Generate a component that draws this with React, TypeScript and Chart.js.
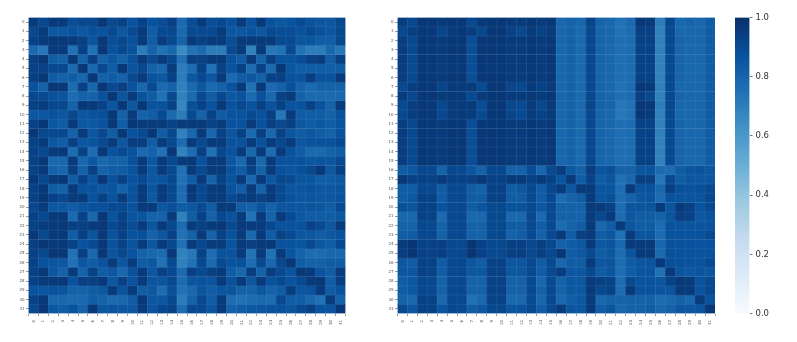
import React, { useEffect, useRef } from "react";
import { Chart, registerables } from "chart.js";

Chart.register(...registerables);

const cellLabels = Array.from({ length: 32 }, (_, i) => String(i));
const colorbarTicks = [0, 0.2, 0.4, 0.6, 0.8, 1];
const blues = ["#f7fbff", "#deebf7", "#c6dbef", "#9ecae1", "#6baed6", "#4292c6", "#2171b5", "#08519c", "#08306b"];

const leftMatrix = [
  [.96,.91,.96,.96,.89,.91,.91,.97,.91,.93,.87,.93,.87,.89,.94,.78,.89,.96,.89,.91,.87,.96,.87,.96,.87,.85,.87,.90,.87,.85,.85,.91],
  [.91,.96,.85,.85,.87,.85,.88,.87,.91,.85,.90,.96,.83,.90,.91,.78,.90,.90,.90,.96,.85,.85,.87,.85,.90,.89,.89,.87,.90,.87,.85,.91],
  [.93,.96,.97,.97,.96,.94,.86,.97,.89,.91,.87,.96,.83,.95,.91,.81,.96,.93,.96,.96,.89,.96,.96,.96,.96,.90,.90,.86,.86,.83,.83,.91],
  [.78,.73,.96,.96,.75,.93,.75,.97,.87,.91,.87,.71,.81,.75,.79,.65,.75,.78,.71,.71,.90,.96,.69,.96,.73,.75,.91,.75,.71,.71,.79,.73],
  [.94,.97,.83,.81,.97,.81,.94,.81,.85,.81,.87,.96,.90,.96,.91,.75,.94,.93,.96,.96,.87,.83,.96,.81,.94,.87,.87,.89,.93,.95,.83,.94],
  [.94,.93,.91,.91,.78,.97,.79,.91,.83,.97,.87,.91,.81,.79,.96,.71,.77,.93,.75,.93,.87,.93,.77,.93,.78,.97,.86,.83,.83,.83,.83,.83],
  [.94,.97,.83,.81,.83,.79,.97,.81,.83,.81,.90,.96,.87,.85,.93,.71,.85,.90,.85,.96,.78,.83,.85,.81,.93,.93,.87,.87,.95,.87,.87,.96],
  [.87,.81,.97,.97,.77,.93,.79,.97,.90,.94,.87,.79,.90,.78,.81,.69,.78,.85,.78,.81,.87,.96,.75,.96,.78,.81,.88,.81,.78,.81,.81,.81],
  [.91,.90,.87,.86,.77,.81,.81,.87,.97,.86,.96,.87,.83,.75,.91,.69,.78,.91,.83,.91,.85,.87,.78,.87,.79,.93,.96,.81,.78,.78,.78,.79],
  [.93,.96,.91,.91,.81,.97,.96,.93,.86,.97,.85,.97,.87,.87,.93,.67,.88,.93,.87,.97,.87,.91,.87,.93,.87,.93,.87,.87,.93,.87,.81,.96],
  [.85,.85,.87,.85,.91,.85,.87,.88,.97,.81,.96,.81,.83,.90,.78,.71,.90,.81,.93,.83,.87,.87,.90,.87,.94,.73,.96,.83,.83,.83,.81,.87],
  [.93,.97,.85,.83,.96,.85,.85,.87,.97,.83,.97,.96,.96,.96,.93,.96,.96,.96,.93,.96,.87,.87,.96,.87,.94,.91,.94,.85,.83,.85,.83,.87],
  [.97,.91,.90,.91,.81,.96,.85,.91,.83,.97,.87,.90,.97,.83,.91,.69,.79,.96,.79,.93,.86,.93,.78,.94,.79,.93,.86,.83,.85,.83,.81,.87],
  [.93,.96,.85,.83,.94,.85,.86,.90,.96,.85,.95,.95,.83,.96,.91,.77,.96,.90,.96,.96,.87,.87,.96,.87,.96,.91,.96,.85,.87,.87,.87,.90],
  [.93,.91,.96,.97,.77,.93,.77,.97,.87,.90,.87,.78,.81,.75,.97,.69,.77,.94,.75,.91,.87,.96,.79,.96,.77,.96,.87,.83,.78,.78,.81,.83],
  [.93,.97,.79,.79,.96,.79,.85,.79,.81,.81,.87,.96,.85,.96,.90,.96,.97,.87,.96,.96,.85,.79,.95,.79,.96,.87,.87,.87,.85,.86,.85,.90],
  [.93,.96,.81,.79,.94,.81,.94,.81,.83,.83,.87,.96,.85,.96,.90,.75,.96,.90,.96,.96,.87,.83,.93,.81,.96,.88,.86,.88,.91,.97,.85,.94],
  [.97,.91,.96,.97,.83,.93,.86,.97,.87,.93,.87,.90,.85,.86,.91,.75,.83,.96,.81,.93,.87,.96,.79,.96,.85,.91,.90,.86,.86,.83,.83,.85],
  [.93,.97,.83,.81,.96,.87,.87,.85,.87,.81,.87,.96,.86,.96,.91,.77,.97,.91,.96,.96,.87,.83,.96,.81,.96,.90,.86,.86,.87,.85,.85,.86],
  [.93,.97,.93,.91,.96,.96,.87,.93,.87,.96,.87,.96,.85,.96,.91,.77,.96,.91,.96,.96,.90,.93,.96,.93,.96,.90,.87,.85,.86,.85,.85,.87],
  [.91,.96,.85,.85,.83,.86,.88,.88,.90,.90,.87,.96,.96,.85,.88,.83,.85,.90,.83,.96,.96,.83,.81,.87,.81,.86,.86,.85,.86,.85,.83,.90],
  [.93,.91,.96,.97,.78,.93,.79,.97,.87,.93,.87,.86,.81,.81,.96,.69,.83,.93,.81,.91,.87,.96,.75,.96,.81,.96,.90,.85,.83,.83,.83,.85],
  [.93,.96,.96,.97,.94,.94,.96,.97,.90,.94,.89,.96,.86,.96,.91,.77,.96,.93,.96,.97,.90,.96,.96,.95,.91,.87,.87,.87,.93,.90,.85,.96],
  [.97,.91,.96,.97,.83,.94,.86,.97,.87,.93,.87,.88,.81,.85,.93,.75,.81,.96,.81,.93,.87,.96,.79,.96,.83,.93,.90,.85,.85,.83,.85,.87],
  [.94,.97,.96,.97,.93,.87,.90,.97,.87,.93,.87,.96,.85,.96,.91,.75,.96,.91,.96,.96,.87,.96,.94,.96,.97,.87,.87,.86,.90,.85,.83,.90],
  [.93,.91,.97,.97,.75,.94,.79,.97,.86,.91,.87,.81,.79,.77,.97,.69,.73,.93,.77,.87,.87,.96,.75,.96,.75,.96,.86,.81,.77,.77,.79,.79],
  [.93,.87,.86,.85,.75,.85,.83,.87,.96,.85,.95,.83,.85,.75,.90,.69,.75,.91,.78,.90,.87,.88,.77,.90,.79,.91,.97,.83,.81,.81,.83,.83],
  [.93,.97,.85,.81,.96,.81,.93,.83,.85,.79,.87,.96,.85,.94,.90,.78,.94,.90,.94,.96,.83,.79,.95,.81,.95,.90,.86,.97,.96,.86,.83,.95],
  [.93,.96,.96,.97,.87,.94,.94,.97,.85,.93,.87,.96,.86,.86,.91,.77,.86,.87,.86,.96,.87,.96,.85,.96,.87,.90,.87,.90,.96,.97,.83,.94],
  [.87,.86,.87,.86,.81,.81,.83,.85,.96,.87,.96,.83,.85,.77,.88,.75,.79,.86,.83,.86,.86,.81,.81,.85,.81,.83,.95,.86,.87,.96,.83,.87],
  [.93,.97,.79,.79,.78,.79,.83,.81,.78,.79,.83,.97,.85,.85,.91,.71,.81,.91,.83,.96,.77,.75,.77,.78,.77,.91,.83,.83,.79,.75,.96,.81],
  [.91,.97,.85,.83,.87,.81,.97,.85,.86,.85,.85,.96,.86,.91,.93,.77,.90,.90,.86,.96,.81,.83,.85,.85,.87,.87,.86,.90,.93,.87,.87,.97],
];

const rightMatrix = [
  [.95,.91,.97,.97,.96,.97,.97,.91,.96,.97,.97,.96,.96,.97,.96,.97,.79,.81,.79,.92,.80,.79,.75,.78,.97,.96,.71,.91,.79,.80,.79,.83],
  [.91,.95,.97,.97,.92,.96,.97,.95,.91,.97,.97,.93,.91,.96,.93,.96,.79,.81,.78,.91,.80,.79,.75,.77,.94,.94,.69,.90,.79,.79,.79,.83],
  [.95,.90,.97,.97,.96,.97,.97,.89,.97,.97,.97,.96,.96,.97,.96,.97,.79,.81,.78,.91,.80,.79,.76,.77,.93,.93,.69,.90,.80,.79,.79,.83],
  [.95,.90,.97,.97,.96,.97,.97,.89,.97,.97,.97,.96,.96,.97,.96,.97,.79,.81,.78,.91,.80,.79,.76,.77,.93,.93,.69,.90,.80,.79,.79,.83],
  [.95,.90,.97,.97,.96,.97,.97,.89,.97,.97,.97,.96,.96,.97,.96,.97,.79,.81,.78,.91,.80,.79,.76,.77,.93,.93,.69,.90,.80,.79,.79,.83],
  [.95,.90,.97,.97,.96,.97,.97,.89,.97,.97,.97,.96,.96,.97,.96,.97,.79,.81,.78,.91,.80,.79,.76,.77,.93,.93,.69,.90,.80,.79,.79,.83],
  [.95,.90,.97,.97,.96,.97,.97,.89,.97,.97,.97,.96,.96,.97,.96,.97,.79,.81,.78,.91,.80,.79,.76,.77,.93,.93,.69,.90,.80,.79,.79,.83],
  [.91,.95,.97,.97,.92,.96,.96,.96,.90,.97,.97,.92,.91,.96,.93,.96,.79,.81,.78,.91,.80,.79,.75,.77,.97,.96,.69,.90,.79,.79,.79,.83],
  [.96,.91,.97,.97,.96,.97,.96,.90,.96,.97,.97,.96,.96,.97,.96,.97,.79,.81,.78,.91,.80,.79,.76,.77,.94,.91,.69,.90,.80,.79,.79,.83],
  [.90,.95,.97,.97,.91,.96,.96,.96,.89,.97,.97,.91,.90,.96,.91,.96,.79,.81,.78,.92,.81,.80,.73,.75,.97,.97,.70,.91,.79,.79,.79,.83],
  [.91,.95,.97,.97,.91,.96,.96,.96,.90,.97,.97,.92,.90,.96,.93,.96,.79,.81,.78,.91,.80,.79,.73,.75,.97,.96,.69,.90,.79,.79,.79,.83],
  [.95,.91,.97,.97,.96,.97,.97,.89,.97,.97,.97,.96,.96,.97,.96,.97,.79,.81,.78,.91,.80,.79,.76,.77,.93,.93,.69,.90,.80,.79,.79,.83],
  [.95,.90,.97,.97,.96,.97,.97,.89,.97,.97,.97,.96,.96,.97,.96,.97,.79,.81,.78,.91,.80,.79,.76,.77,.93,.93,.69,.90,.80,.79,.79,.83],
  [.95,.90,.97,.97,.96,.97,.97,.89,.97,.97,.97,.96,.96,.97,.96,.97,.79,.81,.78,.91,.80,.79,.76,.77,.93,.93,.69,.90,.80,.79,.79,.83],
  [.95,.90,.97,.97,.96,.97,.97,.89,.97,.97,.97,.96,.96,.97,.96,.97,.79,.81,.78,.91,.80,.79,.76,.77,.93,.93,.69,.90,.80,.79,.79,.83],
  [.95,.90,.97,.97,.96,.97,.97,.89,.97,.97,.97,.96,.96,.97,.96,.97,.79,.81,.78,.91,.80,.79,.76,.77,.93,.93,.69,.90,.80,.79,.79,.83],
  [.83,.85,.91,.91,.81,.91,.90,.86,.81,.91,.91,.81,.81,.89,.79,.90,.95,.85,.81,.95,.86,.88,.81,.81,.86,.86,.77,.77,.83,.86,.87,.85],
  [.97,.94,.93,.93,.96,.93,.93,.94,.97,.93,.93,.96,.96,.93,.96,.93,.86,.96,.83,.93,.83,.86,.75,.79,.94,.94,.73,.91,.83,.85,.85,.85],
  [.83,.83,.91,.91,.83,.91,.91,.83,.81,.93,.93,.83,.85,.91,.83,.91,.96,.85,.96,.96,.86,.86,.77,.96,.87,.87,.79,.94,.88,.87,.88,.90],
  [.83,.85,.93,.93,.83,.91,.91,.83,.83,.93,.93,.83,.83,.91,.83,.90,.77,.81,.83,.96,.86,.88,.77,.81,.85,.86,.77,.87,.86,.86,.86,.91],
  [.88,.86,.93,.93,.87,.91,.91,.83,.86,.91,.91,.87,.87,.91,.85,.90,.81,.81,.81,.96,.96,.93,.77,.86,.86,.86,.96,.86,.96,.94,.87,.90],
  [.79,.79,.93,.93,.78,.91,.91,.79,.79,.91,.91,.79,.79,.91,.78,.90,.81,.81,.81,.96,.91,.96,.77,.85,.83,.83,.81,.86,.94,.93,.85,.87],
  [.81,.81,.91,.91,.81,.91,.91,.81,.81,.91,.91,.83,.83,.91,.83,.90,.77,.81,.83,.96,.79,.83,.96,.86,.83,.83,.77,.87,.86,.86,.86,.87],
  [.83,.83,.91,.91,.81,.91,.91,.81,.81,.91,.91,.81,.83,.90,.81,.90,.96,.83,.94,.96,.83,.85,.75,.96,.86,.86,.77,.87,.87,.87,.87,.90],
  [.96,.98,.93,.93,.94,.91,.91,.98,.93,.91,.91,.94,.94,.91,.94,.91,.81,.83,.85,.96,.85,.86,.79,.96,.96,.96,.79,.87,.87,.87,.87,.87],
  [.95,.98,.93,.93,.94,.91,.91,.98,.93,.91,.91,.94,.94,.91,.94,.91,.97,.83,.85,.90,.83,.85,.77,.86,.96,.96,.78,.88,.87,.87,.87,.87],
  [.85,.83,.93,.93,.83,.91,.91,.85,.83,.93,.93,.85,.85,.91,.83,.90,.79,.83,.83,.96,.85,.86,.77,.83,.86,.86,.96,.88,.88,.87,.87,.90],
  [.85,.85,.93,.93,.83,.91,.91,.85,.85,.93,.93,.85,.85,.91,.83,.90,.95,.85,.85,.91,.83,.86,.77,.83,.86,.87,.75,.96,.86,.85,.86,.85],
  [.83,.85,.91,.91,.81,.91,.91,.81,.81,.93,.93,.81,.81,.90,.79,.90,.81,.85,.85,.96,.94,.93,.77,.91,.87,.87,.86,.93,.97,.96,.87,.91],
  [.83,.85,.91,.91,.81,.91,.91,.81,.81,.93,.93,.81,.81,.90,.81,.90,.81,.85,.85,.96,.91,.93,.77,.96,.87,.87,.86,.86,.96,.96,.87,.91],
  [.81,.79,.93,.93,.79,.91,.91,.75,.79,.93,.93,.79,.79,.90,.79,.90,.79,.83,.85,.96,.79,.81,.81,.81,.81,.81,.77,.79,.81,.79,.96,.87],
  [.90,.85,.93,.93,.86,.91,.90,.83,.85,.91,.91,.86,.87,.91,.83,.90,.96,.86,.85,.96,.83,.86,.79,.81,.81,.83,.79,.81,.85,.85,.86,.97],
];

const PLOT_TOP = 17.5;
const PLOT_BOTTOM = 313.5;
const PAGE_W = 797;
const PAGE_H = 342;

function hexToRgb(hex: string) {
  return [1, 3, 5].map((i) => parseInt(hex.slice(i, i + 2), 16));
}

function bluesColor(v: number) {
  const t = Math.max(0, Math.min(1, v)) * (blues.length - 1);
  const i = Math.min(Math.floor(t), blues.length - 2);
  const f = t - i;
  const a = hexToRgb(blues[i]);
  const b = hexToRgb(blues[i + 1]);
  const c = a.map((x, k) => Math.round(x + (b[k] - x) * f));
  return `rgb(${c[0]},${c[1]},${c[2]})`;
}

const baseFont = { family: "'DejaVu Sans'" };

const cellSeams = {
  id: "cellSeams",
  afterDatasetsDraw(chart: any) {
    const { x, y } = chart.scales;
    const { left, right, top, bottom } = chart.chartArea;
    const c = chart.ctx;
    c.save();
    c.strokeStyle = "rgba(255,255,255,0.12)";
    c.lineWidth = 0.6;
    for (let i = 1; i < cellLabels.length; i++) {
      const px = (x.getPixelForValue(i - 1) + x.getPixelForValue(i)) / 2;
      const py = y.getPixelForValue(i);
      c.beginPath();
      c.moveTo(px, top);
      c.lineTo(px, bottom);
      c.moveTo(left, py);
      c.lineTo(right, py);
      c.stroke();
    }
    c.restore();
  },
};

const axisGrid = { display: true, drawOnChartArea: false, drawTicks: true, tickLength: 2.5, tickColor: "#333", tickWidth: 0.5 };

function heatmapConfig(matrix: number[][], left: number, right: number): any {
  return {
    type: "bar",
    plugins: [cellSeams],
    data: {
      labels: cellLabels,
      datasets: matrix.map((row, r) => ({
        label: cellLabels[r],
        data: row.map(() => 1),
        backgroundColor: row.map(bluesColor),
        borderWidth: 0,
        barPercentage: 1,
        categoryPercentage: 1,
      })),
    },
    options: {
      responsive: false,
      animation: false,
      layout: { padding: { left: 0, top: PLOT_TOP, right: PAGE_W - right, bottom: 0 } },
      plugins: { legend: { display: false }, tooltip: { enabled: false } },
      scales: {
        x: {
          stacked: true,
          grid: axisGrid,
          border: { display: false },
          afterFit: (s: any) => { s.height = PAGE_H - PLOT_BOTTOM; },
          ticks: {
            autoSkip: false, minRotation: 90, maxRotation: 90, padding: 4,
            color: "#555", font: { ...baseFont, size: 4 },
          },
        },
        y: {
          stacked: true,
          reverse: true,
          min: 0,
          max: 32,
          grid: axisGrid,
          border: { display: false },
          afterFit: (s: any) => { s.width = left; },
          afterBuildTicks: (s: any) => { s.ticks = cellLabels.map((_, i) => ({ value: i + 0.5 })); },
          ticks: {
            autoSkip: false, padding: 1.5,
            color: "#555", font: { ...baseFont, size: 4 },
            callback: (v: any) => String(Number(v) - 0.5),
          },
        },
      },
    },
  };
}

function colorbarConfig(left: number, right: number): any {
  return {
    type: "bar",
    data: {
      labels: ["colorbar"],
      datasets: [{
        data: [[0, 1]],
        barPercentage: 1,
        categoryPercentage: 1,
        backgroundColor: (ctx: any) => {
          const area = ctx.chart.chartArea;
          if (!area) return blues[8];
          const g = ctx.chart.ctx.createLinearGradient(0, area.bottom, 0, area.top);
          blues.forEach((c, i) => g.addColorStop(i / (blues.length - 1), c));
          return g;
        },
      }],
    },
    options: {
      responsive: false,
      animation: false,
      layout: { padding: { left, top: PLOT_TOP, right: 0, bottom: 0 } },
      plugins: { legend: { display: false }, tooltip: { enabled: false } },
      scales: {
        x: {
          grid: { display: false },
          border: { display: false },
          ticks: { display: false },
          afterFit: (s: any) => { s.height = PAGE_H - PLOT_BOTTOM; },
        },
        y: {
          position: "right",
          min: 0,
          max: 1,
          border: { display: false },
          grid: { display: true, drawOnChartArea: false, drawTicks: true, tickLength: 3, tickColor: "#333", tickWidth: 0.7 },
          afterFit: (s: any) => { s.width = PAGE_W - right; },
          afterBuildTicks: (s: any) => { s.ticks = colorbarTicks.map((value) => ({ value })); },
          ticks: {
            padding: 3, color: "#333", font: { ...baseFont, size: 8.5 },
            callback: (v: any) => Number(v).toFixed(1),
          },
        },
      },
    },
  };
}

export default function App() {
  const a = useRef<HTMLCanvasElement>(null);
  const b = useRef<HTMLCanvasElement>(null);
  const c = useRef<HTMLCanvasElement>(null);

  useEffect(() => {
    document.body.style.margin = "0";
    const charts = [
      new Chart(a.current!, heatmapConfig(leftMatrix, 28.5, 345.5)),
      new Chart(b.current!, heatmapConfig(rightMatrix, 397.5, 715)),
      new Chart(c.current!, colorbarConfig(735, 749.5)),
    ];
    return () => charts.forEach((ch) => ch.destroy());
  }, []);

  const style: React.CSSProperties = { position: "absolute", left: 0, top: 0, filter: "blur(0.35px)" };
  return (
    <div style={{ position: "relative", width: PAGE_W, height: PAGE_H, overflow: "hidden" }}>
      <canvas ref={a} width={PAGE_W} height={PAGE_H} style={style} />
      <canvas ref={b} width={PAGE_W} height={PAGE_H} style={style} />
      <canvas ref={c} width={PAGE_W} height={PAGE_H} style={style} />
    </div>
  );
}
